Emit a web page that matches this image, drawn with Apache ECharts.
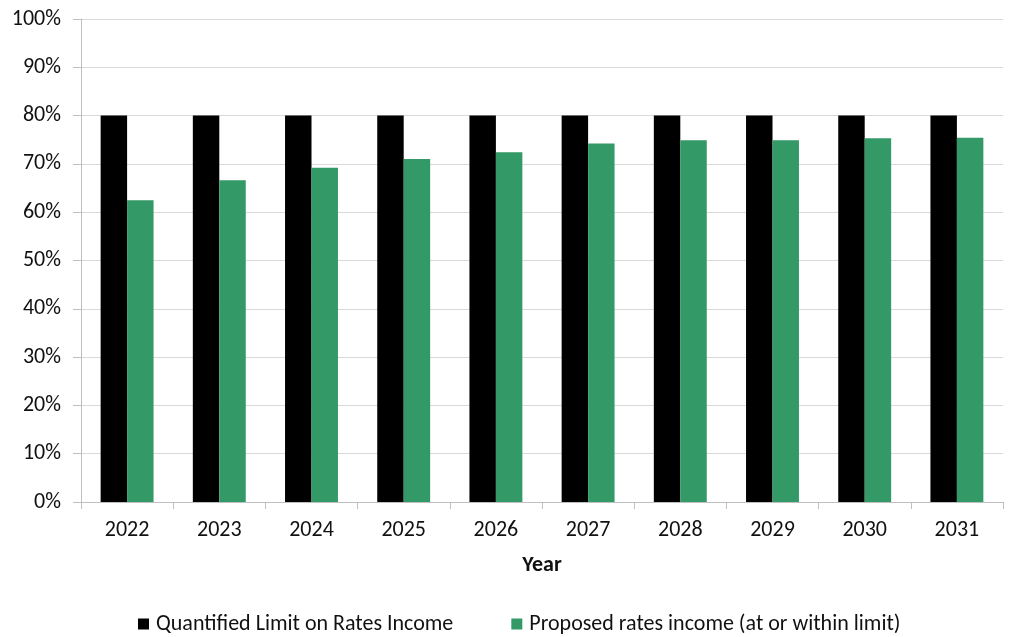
<!DOCTYPE html>
<html>
<head>
<meta charset="utf-8">
<script src="https://cdn.jsdelivr.net/npm/echarts@6/dist/echarts.min.js"></script>
<style>
  html, body { margin: 0; padding: 0; background: #fff; }
  #chart { width: 1010px; height: 637px; }
</style>
</head>
<body>
<div id="chart"></div>
<script>
// Financial years shown on the category axis
const years = ['2022', '2023', '2024', '2025', '2026', '2027', '2028', '2029', '2030', '2031'];
// Quantified limit on rates income (% of total revenue)
const limitValues = [80, 80, 80, 80, 80, 80, 80, 80, 80, 80];
// Proposed rates income (% of total revenue)
const proposedValues = [62.5, 66.6, 69.2, 71.0, 72.4, 74.2, 74.9, 74.9, 75.3, 75.4];
const seriesNames = ['Quantified Limit on Rates Income', 'Proposed rates income (at or within limit)'];

const font = 'Carlito, "Liberation Sans", Arial, sans-serif';
const textColor = '#111';
const chart = echarts.init(document.getElementById('chart'));
chart.setOption({
  animation: false,
  textStyle: { fontFamily: font },
  grid: { left: 81, right: 7, top: 19, bottom: 135, containLabel: false },
  legend: {
    top: 613,
    left: 138,
    padding: 0,
    itemGap: 58,
    itemWidth: 11,
    itemHeight: 11,
    icon: 'rect',
    textStyle: { fontSize: 22, color: textColor, fontFamily: font, padding: [0, 0, 0, 2] },
    data: seriesNames
  },
  xAxis: {
    type: 'category',
    data: years,
    name: 'Year',
    nameLocation: 'middle',
    nameGap: 52,
    nameTextStyle: { fontSize: 22, fontWeight: 'bold', color: textColor, fontFamily: font },
    axisLine: { lineStyle: { color: '#bfbfbf', width: 1 } },
    axisTick: { show: true, length: 7, lineStyle: { color: '#bfbfbf' } },
    axisLabel: { fontSize: 22, color: textColor, margin: 17, fontFamily: font }
  },
  yAxis: {
    type: 'value',
    min: 0,
    max: 100,
    interval: 10,
    axisLine: { show: true, lineStyle: { color: '#bfbfbf', width: 1 } },
    axisTick: { show: true, length: 8, lineStyle: { color: '#bfbfbf' } },
    axisLabel: { fontSize: 22, color: textColor, margin: 20, formatter: '{value}%', fontFamily: font },
    splitLine: { lineStyle: { color: '#d9d9d9', width: 1 } }
  },
  series: [
    {
      name: seriesNames[0],
      type: 'bar',
      data: limitValues,
      barWidth: '28.7%',
      barGap: '0%',
      itemStyle: { color: '#000000' }
    },
    {
      name: seriesNames[1],
      type: 'bar',
      data: proposedValues,
      barWidth: '28.7%',
      itemStyle: { color: '#339966' }
    }
  ]
});
</script>
</body>
</html>
